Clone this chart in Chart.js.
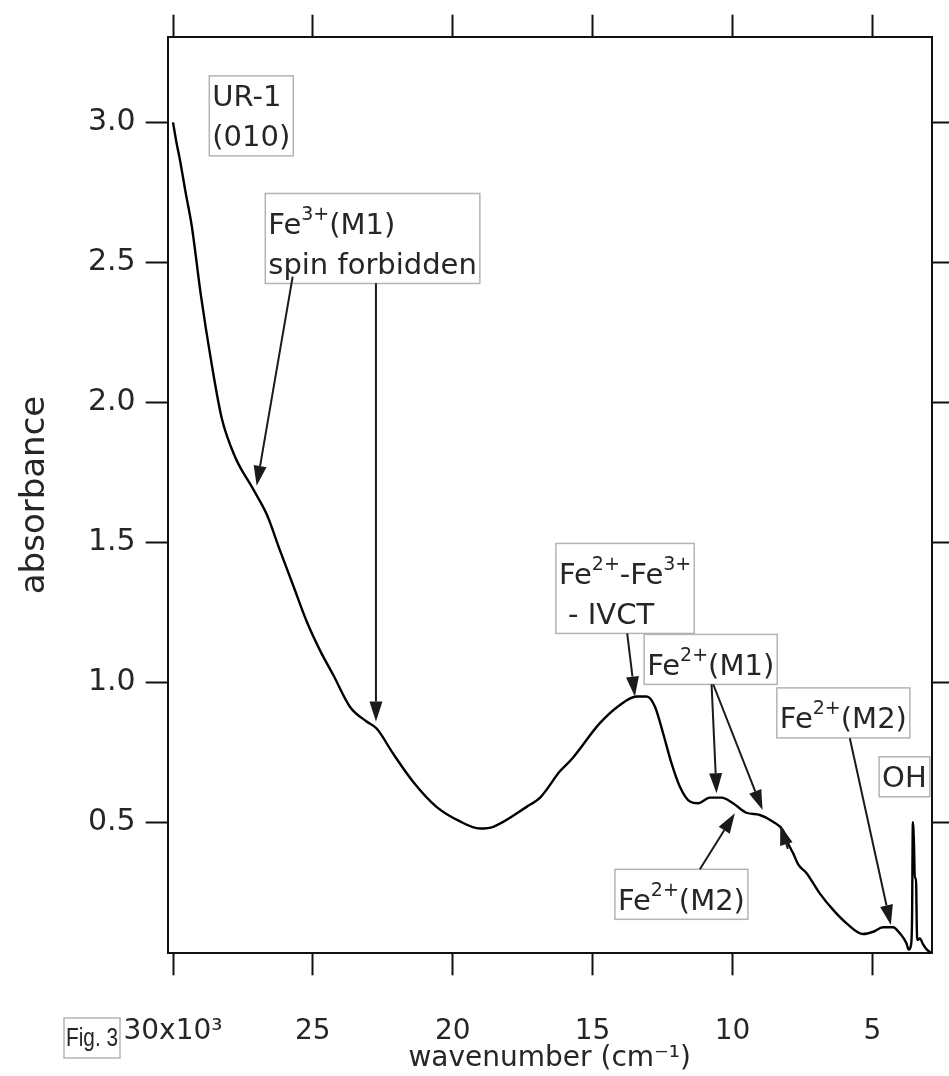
<!DOCTYPE html>
<html><head><meta charset="utf-8">
<script src="https://cdn.jsdelivr.net/npm/chart.js@4.4.1/dist/chart.umd.min.js"></script>
<style>html,body{margin:0;padding:0;background:#fff;}canvas{display:block;}</style>
</head><body>
<canvas id="c" width="949" height="1076"></canvas>
<script>
// ---- data ----
const wavenumber = [30000, 29880, 29750, 29550, 29330, 29000, 28640, 28260, 27780, 27130, 26650, 26180, 25700, 25220, 24750, 24270, 23670, 23080, 22720, 22130, 21410, 20580, 19740, 19030, 18550, 17360, 16850, 16170, 15750, 14740, 14020, 13430, 13070, 12770, 12480, 12180, 11880, 11520, 11230, 10810, 10390, 9980, 9500, 9020, 8550, 8190, 8070, 7830, 7650, 7350, 6880, 6400, 5920, 5330, 4970, 4620, 4260, 4020, 3780, 3700, 3620, 3580, 3550, 3510, 3480, 3440, 3400, 3370, 3300, 3190, 3050, 2920];
const absorbance = [3.00, 2.93, 2.865, 2.75, 2.63, 2.38, 2.15, 1.944, 1.805, 1.689, 1.600, 1.472, 1.345, 1.217, 1.115, 1.026, 0.912, 0.860, 0.835, 0.745, 0.644, 0.555, 0.503, 0.478, 0.484, 0.555, 0.591, 0.682, 0.725, 0.854, 0.919, 0.949, 0.949, 0.913, 0.818, 0.711, 0.627, 0.574, 0.568, 0.588, 0.588, 0.568, 0.534, 0.526, 0.502, 0.470, 0.437, 0.389, 0.350, 0.318, 0.246, 0.187, 0.139, 0.101, 0.109, 0.125, 0.125, 0.104, 0.068, 0.045, 0.060, 0.150, 0.500, 0.420, 0.300, 0.300, 0.090, 0.080, 0.085, 0.065, 0.045, 0.035];

const xTickValues = [30000, 25000, 20000, 15000, 10000, 5000];
const xTickLabels = ['30x10³', '25', '20', '15', '10', '5'];
const yTickValues = [0.5, 1.0, 1.5, 2.0, 2.5, 3.0];
const yTickLabels = ['0.5', '1.0', '1.5', '2.0', '2.5', '3.0'];
const xRange = [2877, 30190];
const yRange = [0.032, 3.306];
const xTitle = 'wavenumber (cm⁻¹)';
const yTitle = 'absorbance';
const figLabel = 'Fig. 3';

// annotation boxes: text lines (^{..} = superscript), top-left anchor in data units
const boxLines = [
  ['UR-1', '(010)'],
  ['Fe^{3+}(M1)', 'spin forbidden'],
  ['Fe^{2+}-Fe^{3+}', ' - IVCT'],
  ['Fe^{2+}(M1)'],
  ['Fe^{2+}(M2)'],
  ['Fe^{2+}(M2)'],
  ['OH']
];
const boxWave = [28703, 26701, 16312, 13156, 14203, 8413, 4757];
const boxAbs = [3.166, 2.746, 1.496, 1.171, 0.332, 0.980, 0.734];

// arrows: from (wave, abs) to (wave, abs)
const arrowFromWave = [25722, 22745, 13763, 10747, 10689, 11165, 8020, 5804];
const arrowFromAbs = [2.449, 2.425, 1.175, 0.993, 0.993, 0.332, 0.405, 0.800];
const arrowToWave = [27009, 22745, 13488, 10568, 8924, 9914, 8290, 4339];
const arrowToAbs = [1.702, 0.860, 0.949, 0.604, 0.544, 0.532, 0.490, 0.133];

// ---- style ----
const FONT = 'DejaVu Sans';
const TXT = '#262626';

function parseSegs(s) {
  const segs = []; const re = /\^\{([^}]*)\}/g; let last = 0, m;
  while ((m = re.exec(s))) {
    if (m.index > last) segs.push({t: s.slice(last, m.index), sup: false});
    segs.push({t: m[1], sup: true}); last = re.lastIndex;
  }
  if (last < s.length) segs.push({t: s.slice(last), sup: false});
  return segs;
}

function drawArrow(ctx, x1, y1, x2, y2) {
  const ang = Math.atan2(y2 - y1, x2 - x1), L = 20, W = 6.5;
  const bx = x2 - L * Math.cos(ang), by = y2 - L * Math.sin(ang);
  ctx.save();
  ctx.strokeStyle = '#1a1a1a'; ctx.fillStyle = '#1a1a1a'; ctx.lineWidth = 2;
  ctx.beginPath(); ctx.moveTo(x1, y1); ctx.lineTo(bx, by); ctx.stroke();
  ctx.beginPath(); ctx.moveTo(x2, y2);
  ctx.lineTo(bx - W * Math.sin(ang), by + W * Math.cos(ang));
  ctx.lineTo(bx + W * Math.sin(ang), by - W * Math.cos(ang));
  ctx.closePath(); ctx.fill();
  ctx.restore();
}

const MAIN = 29, SUP = 19, LINE_H = 40, SUP_EXTRA = 10;
function lineWidth(ctx, segs) {
  let w = 0;
  segs.forEach(sg => { ctx.font = (sg.sup ? SUP : MAIN) + 'px "' + FONT + '"'; w += ctx.measureText(sg.t).width; });
  return w;
}

const figPlugin = {
  id: 'figlabel',
  beforeDraw(chart) {
    const ctx = chart.ctx;
    ctx.save();
    const fx = 64, fy = 1018, bw = 56, bh = 40;
    ctx.fillStyle = '#fff'; ctx.fillRect(fx, fy, bw, bh);
    ctx.strokeStyle = '#b4b4b4'; ctx.lineWidth = 1.5; ctx.strokeRect(fx, fy, bw, bh);
    ctx.font = '25px "Liberation Sans"';
    const tw = ctx.measureText(figLabel).width;
    const sx = Math.min(1, (bw - 4) / tw);
    ctx.translate(fx + 2, fy + 21);
    ctx.scale(sx, 1);
    ctx.fillStyle = TXT; ctx.textBaseline = 'middle'; ctx.textAlign = 'left';
    ctx.fillText(figLabel, 0, 0);
    ctx.restore();
  }
};

const annotPlugin = {
  id: 'annot',
  afterDraw(chart) {
    const ctx = chart.ctx, xs = chart.scales.x, ys = chart.scales.y;
    const px = v => xs.getPixelForValue(v), py = v => ys.getPixelForValue(v);
    ctx.save();
    boxLines.forEach((lines, i) => {
      const left = px(boxWave[i]), top = py(boxAbs[i]);
      const parsed = lines.map(parseSegs);
      const extra = parsed[0].some(s => s.sup) ? SUP_EXTRA : 0;
      const w = Math.max(...parsed.map(p => lineWidth(ctx, p))) + 6;
      const h = lines.length * LINE_H + extra;
      ctx.fillStyle = '#fff'; ctx.fillRect(left, top, w, h);
      ctx.strokeStyle = '#b4b4b4'; ctx.lineWidth = 1.5; ctx.strokeRect(left, top, w, h);
      ctx.fillStyle = TXT; ctx.textBaseline = 'alphabetic'; ctx.textAlign = 'left';
      parsed.forEach((segs, li) => {
        const base = top + extra + 20 + li * LINE_H + 10.5;
        let x = left + 3;
        segs.forEach(sg => {
          ctx.font = (sg.sup ? SUP : MAIN) + 'px "' + FONT + '"';
          ctx.fillText(sg.t, x, sg.sup ? base - 14 : base);
          x += ctx.measureText(sg.t).width;
        });
      });
    });
    arrowFromWave.forEach((_, i) => {
      drawArrow(ctx, px(arrowFromWave[i]), py(arrowFromAbs[i]), px(arrowToWave[i]), py(arrowToAbs[i]));
    });
    ctx.restore();
  }
};

const gridOpts = {drawOnChartArea: false, drawTicks: true, tickLength: 22, tickColor: '#111', tickWidth: 2};
const borderOpts = {display: true, color: '#111', width: 2};
const setXTicks = s => { s.ticks = xTickValues.map(v => ({value: v})); };
const setYTicks = s => { s.ticks = yTickValues.map(v => ({value: v})); };

new Chart(document.getElementById('c').getContext('2d'), {
  type: 'scatter',
  data: {
    datasets: [{
      data: wavenumber.map((w, i) => ({x: w, y: absorbance[i]})),
      showLine: true, borderColor: '#000', borderWidth: 2.4,
      pointRadius: 0, cubicInterpolationMode: 'monotone', fill: false
    }]
  },
  options: {
    responsive: false, animation: false, devicePixelRatio: 1,
    layout: {padding: 0},
    plugins: {legend: {display: false}, tooltip: {enabled: false}},
    scales: {
      x: {
        type: 'linear', position: 'bottom', reverse: true, min: xRange[0], max: xRange[1],
        afterBuildTicks: setXTicks,
        ticks: {callback: (v, i) => xTickLabels[i], font: {family: FONT, size: 28}, color: TXT, padding: 40, maxRotation: 0, autoSkip: false},
        grid: gridOpts, border: borderOpts,
        title: {display: true, text: xTitle, font: {family: FONT, size: 28}, color: TXT, padding: {top: 0, bottom: 0}},
        afterFit: s => { s.height = 1076 - 953.3; }
      },
      x2: {
        type: 'linear', position: 'top', reverse: true, min: xRange[0], max: xRange[1],
        afterBuildTicks: setXTicks, ticks: {display: false},
        grid: gridOpts, border: borderOpts,
        afterFit: s => { s.height = 36.7; }
      },
      y: {
        type: 'linear', position: 'left', min: yRange[0], max: yRange[1],
        afterBuildTicks: setYTicks,
        ticks: {callback: (v, i) => yTickLabels[i], font: {family: FONT, size: 30}, color: TXT, padding: 10},
        grid: gridOpts, border: borderOpts,
        title: {display: true, text: yTitle, font: {family: FONT, size: 34}, color: TXT, padding: {top: 15, bottom: 0}},
        afterFit: s => { s.width = 167.7; }
      },
      y2: {
        type: 'linear', position: 'right', min: yRange[0], max: yRange[1],
        afterBuildTicks: setYTicks, ticks: {display: false},
        grid: gridOpts, border: borderOpts,
        afterFit: s => { s.width = 949 - 931.7; }
      }
    }
  },
  plugins: [figPlugin, annotPlugin]
});
</script>
</body></html>
